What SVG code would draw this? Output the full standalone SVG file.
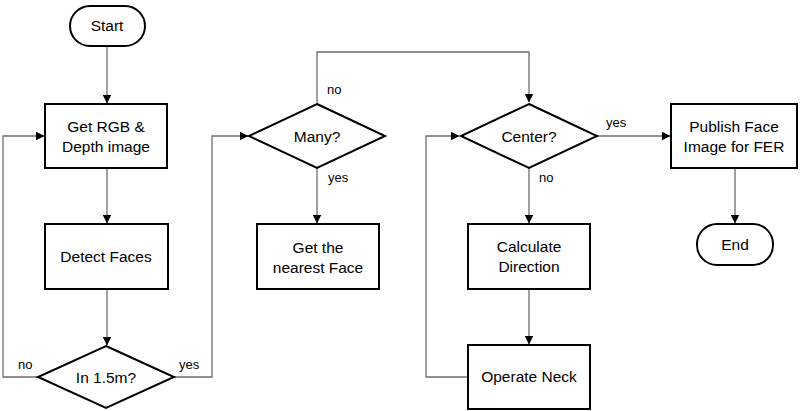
<svg xmlns="http://www.w3.org/2000/svg" width="800" height="411" viewBox="0 0 800 411">
<defs>
<marker id="ah" markerWidth="9" markerHeight="9" refX="8.5" refY="4.5" orient="auto" markerUnits="userSpaceOnUse">
<path d="M0,0 L9,4.5 L0,9 z" fill="#000"/>
</marker>
<style>
.n{fill:#fff;stroke:#000;stroke-width:2}
.t{font-family:"Liberation Sans",Arial,sans-serif;font-size:15.5px;fill:#000;text-anchor:middle}
.l{font-family:"Liberation Sans",Arial,sans-serif;font-size:13px;fill:#000}
.c{fill:none;stroke:#6e6e6e;stroke-width:1.3;marker-end:url(#ah)}
</style>
</defs>
<rect width="800" height="411" fill="#fff"/>
<g id="connectors">
<path class="c" d="M107,46 V103"/>
<path class="c" d="M107,168 V223"/>
<path class="c" d="M107,289 V345"/>
<path class="c" d="M38,377 H3 V136 H44"/>
<path class="c" d="M174,377 H212 V136 H248"/>
<path class="c" d="M317,103 V52 H529 V102"/>
<path class="c" d="M317,168 V223"/>
<path class="c" d="M529,168 V223"/>
<path class="c" d="M529,289 V344"/>
<path class="c" d="M468,377 H426 V136 H459"/>
<path class="c" d="M597,136 H670"/>
<path class="c" d="M735,168 V223"/>
<text class="l" x="18" y="369">no</text>
<text class="l" x="179" y="369">yes</text>
<text class="l" x="327" y="94">no</text>
<text class="l" x="328" y="182">yes</text>
<text class="l" x="539" y="182">no</text>
<text class="l" x="606" y="127">yes</text>
</g>
<g id="start">
<rect class="n" x="70" y="6" width="75" height="40" rx="20"/>
<text class="t" x="107" y="31">Start</text>
</g>
<g id="get-rgb">
<rect class="n" x="45" y="104" width="122" height="64"/>
<text class="t" x="106" y="132">Get RGB &amp;</text>
<text class="t" x="106" y="152">Depth image</text>
</g>
<g id="detect-faces">
<rect class="n" x="45" y="224" width="123" height="65"/>
<text class="t" x="106" y="262">Detect Faces</text>
</g>
<g id="in-range">
<polygon class="n" points="106,346 174,377 106,408 38,377"/>
<text class="t" x="106" y="383">In 1.5m?</text>
</g>
<g id="many">
<polygon class="n" points="317,104 385,136 317,168 249,136"/>
<text class="t" x="317" y="142">Many?</text>
</g>
<g id="nearest-face">
<rect class="n" x="257" y="224" width="122" height="65"/>
<text class="t" x="318" y="253">Get the</text>
<text class="t" x="318" y="273">nearest Face</text>
</g>
<g id="center">
<polygon class="n" points="529,104 597,136 529,168 461,136"/>
<text class="t" x="529" y="142">Center?</text>
</g>
<g id="calc-direction">
<rect class="n" x="468" y="224" width="122" height="65"/>
<text class="t" x="529" y="252">Calculate</text>
<text class="t" x="529" y="272">Direction</text>
</g>
<g id="operate-neck">
<rect class="n" x="468" y="345" width="122" height="64"/>
<text class="t" x="529" y="382">Operate Neck</text>
</g>
<g id="publish">
<rect class="n" x="671" y="104" width="126" height="64"/>
<text class="t" x="734" y="132">Publish Face</text>
<text class="t" x="734" y="152">Image for FER</text>
</g>
<g id="end">
<rect class="n" x="697" y="224" width="76" height="41" rx="20"/>
<text class="t" x="735" y="250">End</text>
</g>
</svg>
